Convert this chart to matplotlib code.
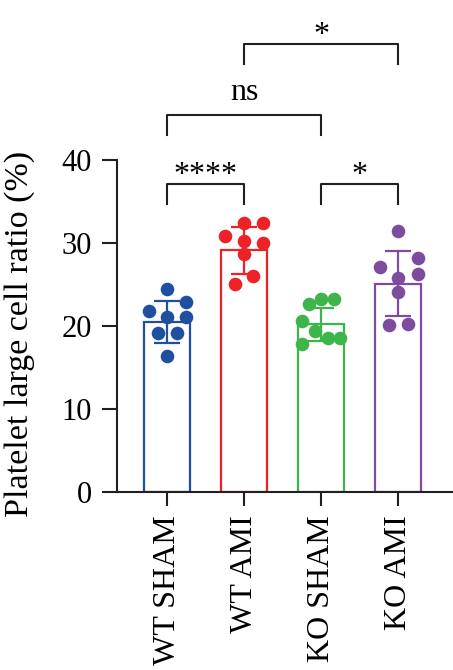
import matplotlib
matplotlib.use('Agg')
import matplotlib.pyplot as plt

plt.rcParams['font.family'] = ['Liberation Serif', 'DejaVu Serif']

groups = ['WT SHAM', 'WT AMI', 'KO SHAM', 'KO AMI']
colors = ['#1f50a0', '#ed2227', '#3db54a', '#7d4c9f']

means = [20.5, 29.1, 20.2, 25.1]
sds = [2.5, 2.8, 2.0, 3.9]

wt_sham = [24.5, 21.8, 22.9, 21.1, 21.1, 19.1, 19.1, 16.4]
wt_ami = [32.4, 32.4, 30.8, 30.3, 30.0, 28.7, 26.0, 25.1]
ko_sham = [22.7, 23.2, 23.2, 20.6, 19.4, 18.5, 18.6, 17.8]
ko_ami = [31.4, 28.2, 27.1, 26.3, 25.8, 24.1, 20.1, 20.3]
points = [wt_sham, wt_ami, ko_sham, ko_ami]

# horizontal spread of the dots inside each bar
jitter = [
    [0.0, -0.24, 0.25, 0.0, 0.25, -0.12, 0.13, 0.0],
    [0.0, 0.25, -0.25, 0.0, 0.25, 0.0, 0.12, -0.12],
    [-0.165, 0.0, 0.165, -0.25, -0.08, 0.086, 0.25, -0.25],
    [0.0, 0.25, -0.24, 0.25, 0.0, 0.0, -0.12, 0.13],
]

# (left group, right group, bar height, label)
comparisons = [
    (0, 1, 37.1, '****'),
    (2, 3, 37.1, '*'),
    (0, 2, 45.4, 'ns'),
    (1, 3, 54.0, '*'),
]

fig = plt.figure(figsize=(4.53, 6.70), dpi=100)
ax = fig.add_axes([117 / 453, 1 - 492 / 670, 1 - 117 / 453, 332 / 670])

x = range(len(groups))
ax.bar(x, means, width=0.6, color='white', edgecolor=colors, linewidth=1.6, zorder=1)
for i in x:
    ax.errorbar(i, means[i], yerr=sds[i], color=colors[i], elinewidth=1.6,
                capsize=9.5, capthick=1.6, zorder=2)
    xs = [i + j for j in jitter[i]]
    ax.plot(xs, points[i], 'o', color=colors[i], markersize=9.8,
            markeredgewidth=0, zorder=3, clip_on=False)

for a, b, h, label in comparisons:
    leg = 2.4
    ax.plot([a, a, b, b], [h - leg, h, h, h - leg], color='#231f20',
            linewidth=1.5, clip_on=False)
    if label == 'ns':
        ax.text((a + b) / 2, h + 1.0, label, ha='center', va='bottom', fontsize=23)
    else:
        ax.text((a + b) / 2, h - 0.7, label, ha='center', va='bottom', fontsize=23)

ax.set_ylim(0, 40)
ax.set_xlim(-0.65, 3.71)
ax.set_yticks([0, 10, 20, 30, 40])
ax.set_xticks(list(x))
ax.set_xticklabels(groups, rotation=90, fontsize=23)
ax.tick_params(axis='y', labelsize=22, length=11, width=1.5, pad=7, color='#231f20')
ax.tick_params(axis='x', length=10, width=1.5, pad=7, color='#231f20')
ax.set_ylabel('Platelet large cell ratio (%)', fontsize=24.5)
ax.yaxis.set_label_coords(-0.243, 0.475)

for s in ['top', 'right']:
    ax.spines[s].set_visible(False)
for s in ['left', 'bottom']:
    ax.spines[s].set_linewidth(1.5)
    ax.spines[s].set_color('#231f20')

fig.savefig('out.png', dpi=100)
